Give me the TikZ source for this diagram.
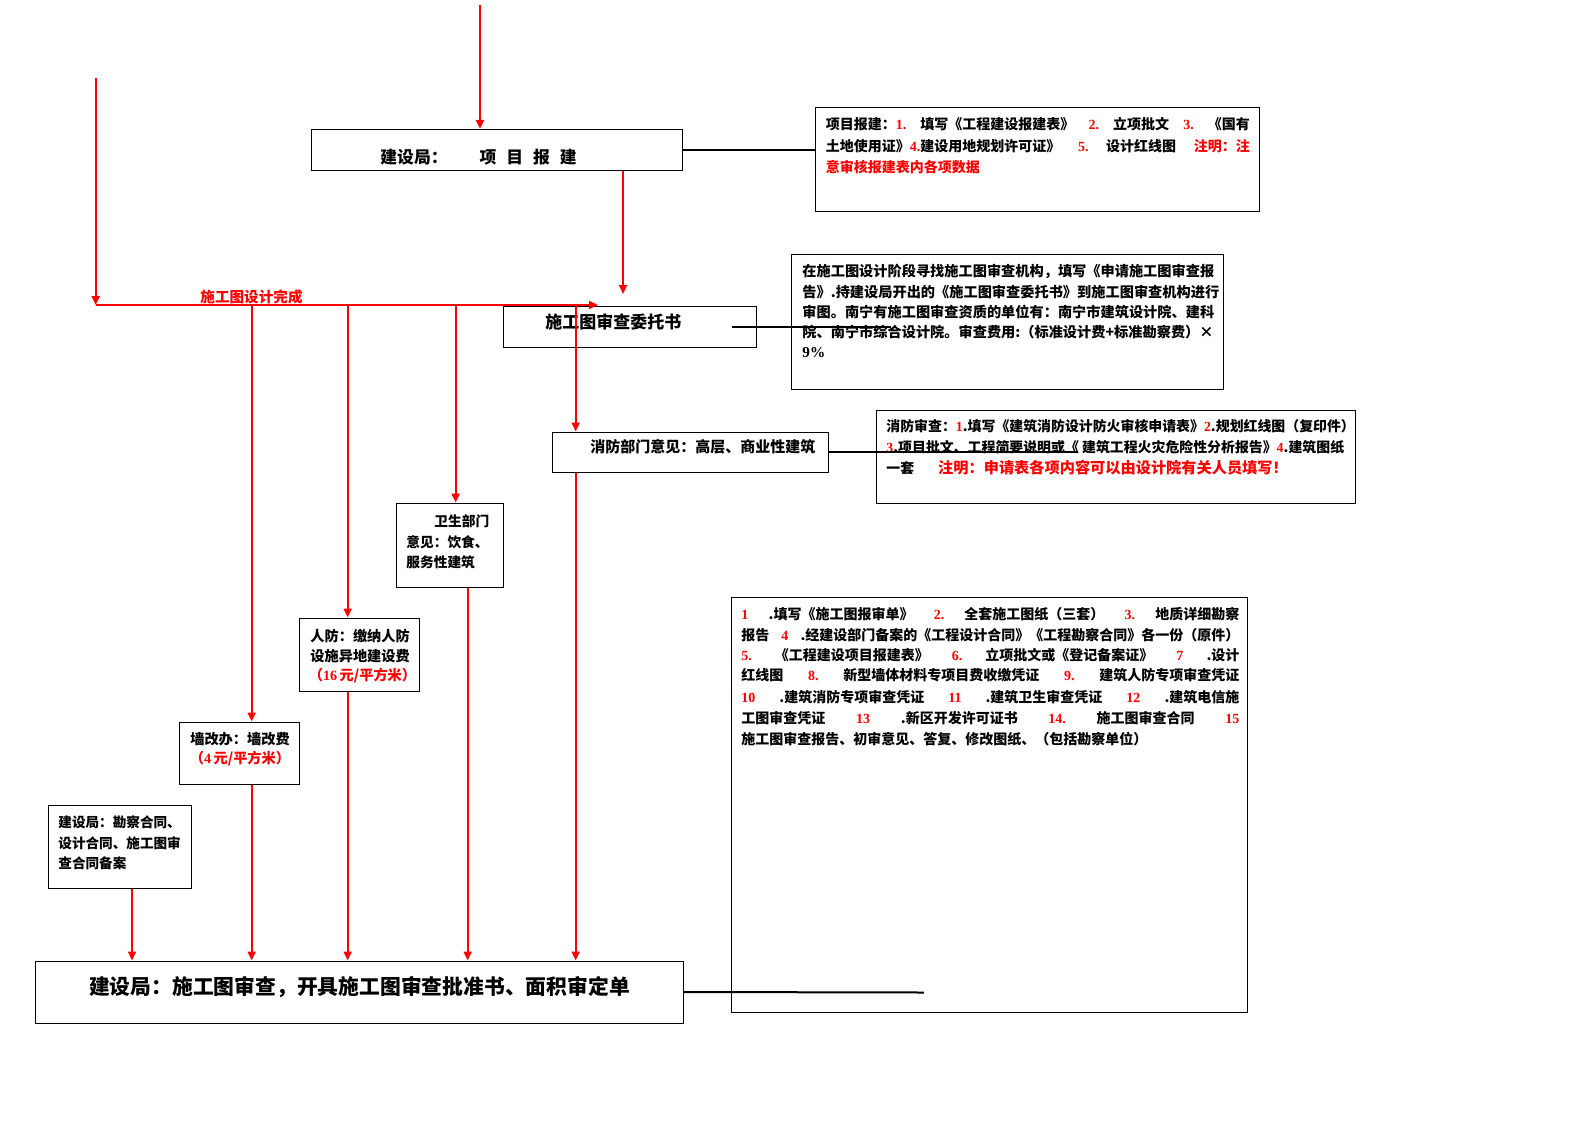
\documentclass[tikz,border=0pt]{standalone}
\usepackage{fontspec}
\setmainfont{Noto Sans CJK SC}
\newfontfamily\numfont{Liberation Serif}
\usetikzlibrary{arrows.meta}
\newcommand\rn[1]{{\color{red}\numfont\bfseries #1}}

\begin{document}
\begin{tikzpicture}[x=1pt,y=-1pt,
    box/.style={draw,line width=0.5pt,inner sep=0pt},
    redarrow/.style={red,line width=1pt,-{Triangle[width=4pt,length=4.5pt]}},
    link/.style={line width=1pt},
    txt/.style={inner sep=0pt,anchor=west,font=\bfseries\fontsize{7.1}{8.5}\selectfont}]
    \useasboundingbox (0,0) rectangle (794,561.5);

    % boxes
    \node[box,minimum width=185.7pt,minimum height=20.8pt] (xmbj) at (248.6,75.1) {};
    \node[box,minimum width=222pt,minimum height=52pt] (xmbjsm) at (518.5,80) {};
    \node[box,minimum width=126.5pt,minimum height=20.5pt] (wts) at (314.75,163.25) {};
    \node[box,minimum width=216pt,minimum height=67.5pt] (wtssm) at (503.5,160.75) {};
    \node[box,minimum width=138pt,minimum height=20pt] (xf) at (345,226) {};
    \node[box,minimum width=239.5pt,minimum height=46.5pt] (xfsm) at (557.75,228.25) {};
    \node[box,minimum width=53.5pt,minimum height=42pt] (ws) at (224.75,272.5) {};
    \node[box,minimum width=60pt,minimum height=36.5pt] (rf) at (179.5,327.25) {};
    \node[box,minimum width=60pt,minimum height=31pt] (qg) at (119.5,376.5) {};
    \node[box,minimum width=71.5pt,minimum height=41.5pt] (ba) at (59.75,423.25) {};
    \node[box,minimum width=324pt,minimum height=31pt] (sc) at (179.75,496) {};
    \node[box,minimum width=258pt,minimum height=207.75pt] (scsm) at (494.5,402.6) {};

    % texts
    \node[txt,font=\bfseries\fontsize{8.4}{10}\selectfont] (xmbj-t) at (190,78.5)
        {建设局：\hspace{16pt}项\hspace{5pt}目\hspace{5pt}报\hspace{5pt}建};
    \node[txt,font=\bfseries\fontsize{7}{8.5}\selectfont] (bj1) at (412.75,62.3)
        {\hbox to 212pt{项目报建：\rn{1.}\hspace{7pt}填写《工程建设报建表》\hfill{}\rn{2.}\hfill{}立项批文\hfill{}\rn{3.}\hfill{}《国有}};
    \node[txt,font=\bfseries\fontsize{7}{8.5}\selectfont] (bj2) at (412.75,72.9)
        {\hbox to 212pt{土地使用证》\rn{4.}建设用地规划许可证》\hfill{}\rn{5.}\hfill{}设计红线图\hfill{}{\color{red}注明：注}}};
    \node[txt,font=\bfseries\fontsize{7}{8.5}\selectfont,red] (bj3) at (412.75,83.5) {意审核报建表内各项数据};

    \node[txt,red,font=\bfseries\fontsize{7.3}{8.5}\selectfont] (wc) at (100,148.3) {施工图设计完成};

    \node[txt,font=\bfseries\fontsize{8.5}{10}\selectfont] (wts-t) at (272.5,161) {施工图审查委托书};
    \node[txt] (wt1) at (401,135.5) {在施工图设计阶段寻找施工图审查机构，填写《申请施工图审查报};
    \node[txt] (wt2) at (401,146) {告》.持建设局开出的《施工图审查委托书》到施工图审查机构进行};
    \node[txt] (wt3) at (401,156) {审图。南宁有施工图审查资质的单位有：南宁市建筑设计院、建科};
    \node[txt] (wt4) at (401,166) {院、南宁市综合设计院。审查费用:（标准设计费+标准勘察费）×};
    \node[txt,font=\bfseries\fontsize{7.6}{9}\selectfont] (wt5) at (401,176.5) {\numfont\bfseries 9\%};

    \node[txt,font=\bfseries\fontsize{7.5}{9}\selectfont] (xf-t) at (295,223.5) {消防部门意见：高层、商业性建筑};
    \node[txt,font=\bfseries\fontsize{6.95}{8}\selectfont] (xs1) at (443,213)
        {消防审查：\rn{1}.填写《建筑消防设计防火审核申请表》\rn{2}.规划红线图（复印件）};
    \node[txt,font=\bfseries\fontsize{6.95}{8}\selectfont] (xs2) at (443,223.5)
        {\rn{3}.项目批文、工程简要说明或《 建筑工程火灾危险性分析报告》\rn{4}.建筑图纸};
    \node[txt,font=\bfseries\fontsize{6.95}{8}\selectfont] (xs3) at (443,234)
        {一套\hspace{12pt}{\color{red}\fontsize{7.6}{8}\selectfont 注明：申请表各项内容可以由设计院有关人员填写！}};

    \node[txt,font=\bfseries\fontsize{6.85}{8}\selectfont] (ws1) at (217,260.5) {卫生部门};
    \node[txt,font=\bfseries\fontsize{6.85}{8}\selectfont] (ws2) at (203,271) {意见：饮食、};
    \node[txt,font=\bfseries\fontsize{6.85}{8}\selectfont] (ws3) at (203,281) {服务性建筑};

    \node[txt] (rf1) at (155,318) {人防：缴纳人防};
    \node[txt] (rf2) at (155,328) {设施异地建设费};
    \node[txt,anchor=center,red] (rf3) at (181.25,338) {（{\numfont 16}\,元/平方米）};

    \node[txt,anchor=center] (qg1) at (120,369.5) {墙改办：墙改费};
    \node[txt,anchor=center,red] (qg2) at (120,379.5) {（{\numfont 4}\,元/平方米）};

    \node[txt,font=\bfseries\fontsize{6.8}{8}\selectfont] (ba1) at (29,411) {建设局：勘察合同、};
    \node[txt,font=\bfseries\fontsize{6.8}{8}\selectfont] (ba2) at (29,421.5) {设计合同、施工图审};
    \node[txt,font=\bfseries\fontsize{6.8}{8}\selectfont] (ba3) at (29,431.5) {查合同备案};

    \node[txt,anchor=center,font=\bfseries\fontsize{10.4}{12}\selectfont] (sc-t) at (179.75,493.75)
        {建设局：施工图审查，开具施工图审查批准书、面积审定单};

    \node[txt,font=\bfseries\fontsize{7}{8.5}\selectfont] (sm1) at (370.5,307)
        {\hbox to 249pt{\rn{1}\hfill{}.填写《施工图报审单》\hfill{}\rn{2.}\hfill{}全套施工图纸（三套）\hfill{}\rn{3.}\hfill{}地质详细勘察}};
    \node[txt,font=\bfseries\fontsize{7}{8.5}\selectfont] (sm2) at (370.5,317.5)
        {\hbox to 249pt{报告\hfill{}\rn{4}\hfill{}.经建设部门备案的《工程设计合同》《工程勘察合同》各一份（原件）}};
    \node[txt,font=\bfseries\fontsize{7}{8.5}\selectfont] (sm3) at (370.5,327.5)
        {\hbox to 249pt{\rn{5.}\hfill{}《工程建设项目报建表》\hfill{}\rn{6.}\hfill{}立项批文或《登记备案证》\hfill{}\rn{7}\hfill{}.设计}};
    \node[txt,font=\bfseries\fontsize{7}{8.5}\selectfont] (sm4) at (370.5,337.75)
        {\hbox to 249pt{红线图\hfill{}\rn{8.}\hfill{}新型墙体材料专项目费收缴凭证\hfill{}\rn{9.}\hfill{}建筑人防专项审查凭证}};
    \node[txt,font=\bfseries\fontsize{7}{8.5}\selectfont] (sm5) at (370.5,348.5)
        {\hbox to 249pt{\rn{10}\hfill{}.建筑消防专项审查凭证\hfill{}\rn{11}\hfill{}.建筑卫生审查凭证\hfill{}\rn{12}\hfill{}.建筑电信施}};
    \node[txt,font=\bfseries\fontsize{7}{8.5}\selectfont] (sm6) at (370.5,359)
        {\hbox to 249pt{工图审查凭证\hfill{}\rn{13}\hfill{}.新区开发许可证书\hfill{}\rn{14.}\hfill{}施工图审查合同\hfill{}\rn{15}}};
    \node[txt,font=\bfseries\fontsize{7}{8.5}\selectfont] (sm7) at (370.5,369.5)
        {施工图审查报告、初审意见、答复、修改图纸、（包括勘察单位）};

    % red arrows
    \coordinate (topin) at (240,2.5);
    \coordinate (leftin) at (47.85,39);
    \coordinate (hstart) at (47.85,152.5);
    \coordinate (hend) at (299,152.5);
    \coordinate (bjdown) at (311.5,147);
    \coordinate (b1) at (125.85,152.5);
    \coordinate (b2) at (173.85,152.5);
    \coordinate (b3) at (227.85,152.5);
    \coordinate (b4) at (287.85,152.5);
    \draw[redarrow] (topin) -- (topin |- xmbj.north);
    \draw[redarrow] (leftin) -- (hstart);
    \draw[redarrow] (hstart) -- (hend);
    \draw[redarrow] (xmbj.south -| bjdown) -- (bjdown);
    \draw[redarrow] (b1) -- (b1 |- qg.north);
    \draw[redarrow] (b2) -- (b2 |- rf.north);
    \draw[redarrow] (b3) -- (b3 |- ws.north);
    \draw[redarrow] (b4) -- (b4 |- xf.north);
    \draw[redarrow] ([xshift=6.25pt]ba.south) -- ([xshift=6.25pt]ba.south |- sc.north);
    \draw[redarrow] (b1 |- qg.south) -- (b1 |- sc.north);
    \draw[redarrow] (b2 |- rf.south) -- (b2 |- sc.north);
    \draw[redarrow] ([xshift=9.1pt]ws.south) -- ([xshift=9.1pt]ws.south |- sc.north);
    \draw[redarrow] (b4 |- xf.south) -- (b4 |- sc.north);

    % black links
    \coordinate (wtsa) at (366,163.5);
    \coordinate (wtsb) at (445.5,163.5);
    \coordinate (xfb) at (539,226);
    \coordinate (scb) at (462,496.25);
    \draw[link] (xmbj.east) -- (xmbj.east -| xmbjsm.west);
    \draw[link] (wtsa) -- (wtsb);
    \draw[link] (xf.east) -- (xfb);
    \draw[link] (sc.east) -- (scb);
\end{tikzpicture}
\end{document}
